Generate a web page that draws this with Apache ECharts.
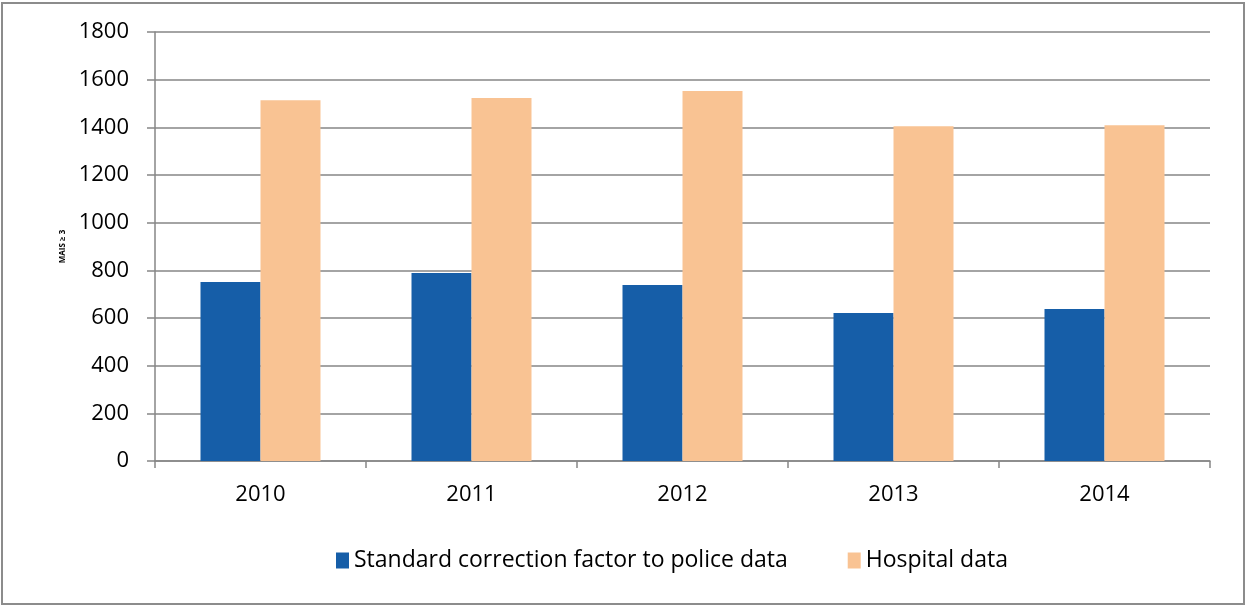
<!DOCTYPE html>
<html>
<head>
<meta charset="utf-8">
<script src="https://cdn.jsdelivr.net/npm/echarts@6/dist/echarts.min.js"></script>
<style>
  html, body { margin: 0; padding: 0; background: #fff; }
  #main { position: absolute; left: 0; top: 0; width: 1245px; height: 605px; }
  .frame { position: absolute; left: 1px; top: 2px; width: 1240px; height: 599px; border: 2px solid #8c8c8c; pointer-events: none; }
</style>
</head>
<body>
<div id="main"></div>
<div class="frame"></div>
<script>
var years = ['2010', '2011', '2012', '2013', '2014'];
var police = [751, 789, 738, 621, 638];
var hospital = [1514, 1523, 1552, 1405, 1409];
var yTicks = [0, 200, 400, 600, 800, 1000, 1200, 1400, 1600, 1800];

var font = '"Open Sans", "Noto Sans", sans-serif';
var myChart = echarts.init(document.getElementById('main'));

var option = {
  animation: false,
  textStyle: { fontFamily: font },
  grid: { left: 155, right: 35, top: 32, bottom: 144 },
  legend: {
    top: 544,
    left: 331,
    itemWidth: 13,
    itemHeight: 16,
    itemGap: 60,
    icon: 'rect',
    textStyle: { fontSize: 23, color: '#000', fontFamily: font },
    data: ['Standard correction factor to police data', 'Hospital data']
  },
  xAxis: {
    type: 'category',
    data: years,
    axisLine: { lineStyle: { color: '#868686', width: 1.5 } },
    axisTick: { show: true, length: 7, lineStyle: { color: '#868686', width: 1.5 } },
    axisLabel: { fontSize: 22, color: '#000', margin: 23, fontFamily: font }
  },
  yAxis: {
    type: 'value',
    min: yTicks[0],
    max: yTicks[yTicks.length - 1],
    interval: 200,
    name: 'MAIS ≥ 3',
    nameLocation: 'middle',
    nameRotate: 90,
    nameGap: 88,
    nameTextStyle: { fontSize: 8, fontWeight: 'bold', color: '#000', fontFamily: font },
    axisLine: { show: true, lineStyle: { color: '#868686', width: 1.5 } },
    axisTick: { show: true, length: 8, lineStyle: { color: '#868686', width: 1.5 } },
    axisLabel: {
      fontSize: 22, color: '#000', margin: 26, fontFamily: font,
      formatter: function (v) { return String(v); }
    },
    splitLine: { lineStyle: { color: '#868686', width: 1.5 } }
  },
  series: [
    {
      name: 'Standard correction factor to police data',
      type: 'bar',
      barWidth: 60,
      barGap: '0%',
      itemStyle: { color: '#165ea8' },
      data: police
    },
    {
      name: 'Hospital data',
      type: 'bar',
      barWidth: 60,
      itemStyle: { color: '#f9c393' },
      data: hospital
    }
  ]
};
myChart.setOption(option);
</script>
</body>
</html>
